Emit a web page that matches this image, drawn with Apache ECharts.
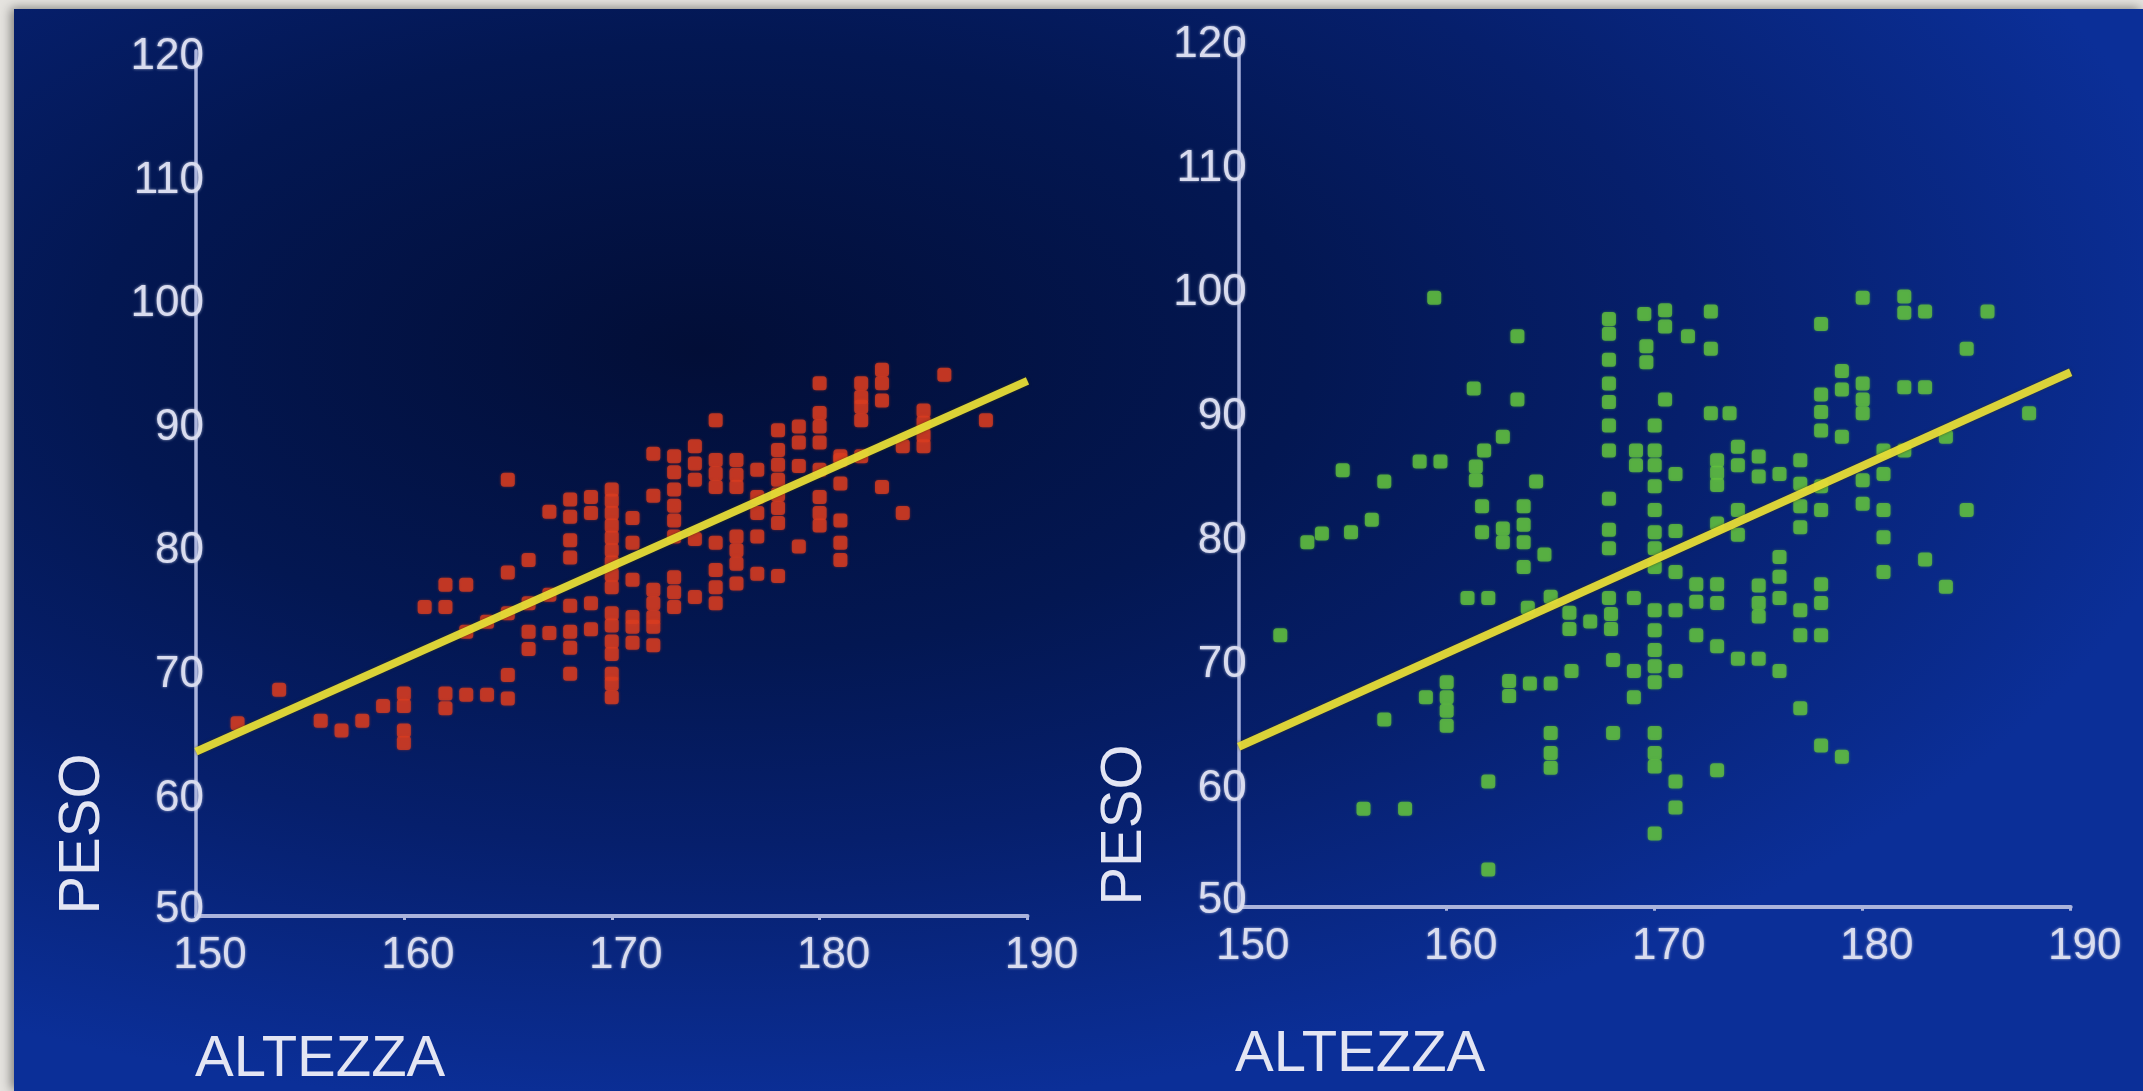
<!DOCTYPE html>
<html>
<head>
<meta charset="utf-8">
<title>PESO / ALTEZZA</title>
<script src="https://cdn.jsdelivr.net/npm/echarts@6/dist/echarts.min.js"></script>
<style>
  html, body { margin: 0; padding: 0; width: 2143px; height: 1091px; overflow: hidden; background: #e5e3df; }
  #slide {
    position: absolute; left: 14px; top: 9px; width: 2129px; height: 1082px;
    background: radial-gradient(1523px 762px at 686px 341px, #020e37 0%, #031752 40%, #061f6c 65%, #0b2f98 100%);
    box-shadow: -3px -1px 10px rgba(0, 0, 0, 0.45);
  }
  #chart { position: absolute; left: 0; top: 0; width: 2143px; height: 1091px; }
</style>
</head>
<body>
<div id="slide"></div>
<div id="chart"></div>
<script>
// Axis ticks (altezza in cm, peso in kg)
const xTicks = [150, 160, 170, 180, 190];
const yTicks = [50, 60, 70, 80, 90, 100, 110, 120];

// Left panel: [altezza, peso] — strong correlation
const rossi = [
  [152,65.6],[154,68.3],[156,65.8],[157,65.0],[158,65.8],[159,67.0],
  [160,68.0],[160,67.0],[160,65.0],[160,64.0],
  [161,75.0],[162,76.8],[162,75.0],[162,68.0],[162,66.8],
  [163,76.8],[163,73.0],[163,67.9],
  [164,73.8],[164,67.9],
  [165,85.3],[165,77.8],[165,74.5],[165,69.5],[165,67.6],
  [166,78.8],[166,75.3],[166,73.0],[166,71.6],
  [167,82.7],[167,76.0],[167,72.9],
  [168,83.7],[168,82.3],[168,80.4],[168,79.0],[168,75.1],[168,73.0],[168,71.7],[168,69.6],
  [169,83.9],[169,82.6],[169,75.3],[169,73.2],
  [170,84.5],[170,83.6],[170,82.6],[170,81.6],[170,80.6],[170,79.6],[170,78.6],[170,77.6],
  [170,76.6],[170,74.5],[170,73.5],[170,72.2],[170,71.2],[170,69.6],[170,68.8],[170,67.7],
  [171,82.2],[171,80.2],[171,77.2],[171,74.2],[171,73.4],[171,72.1],
  [172,87.4],[172,84.0],[172,76.4],[172,75.3],[172,74.2],[172,73.4],[172,71.9],
  [173,87.2],[173,85.9],[173,84.5],[173,83.2],[173,82.0],[173,80.7],[173,77.4],[173,76.2],[173,75.0],
  [174,88.0],[174,86.6],[174,85.3],[174,80.5],[174,75.8],
  [175,90.1],[175,86.9],[175,85.8],[175,84.7],[175,80.2],[175,78.0],[175,76.6],[175,75.3],
  [176,86.9],[176,85.7],[176,84.7],[176,80.7],[176,79.6],[176,78.5],[176,76.9],
  [177,86.1],[177,83.9],[177,82.6],[177,80.7],[177,77.7],
  [178,89.3],[178,87.7],[178,86.5],[178,85.3],[178,84.1],[178,83.0],[178,81.8],[178,77.5],
  [179,89.6],[179,88.3],[179,86.4],[179,79.9],
  [180,93.1],[180,90.7],[180,89.6],[180,88.3],[180,86.1],[180,83.9],[180,82.6],[180,81.6],
  [181,87.2],[181,86.9],[181,85.0],[181,82.0],[181,80.2],[181,78.8],
  [182,93.1],[182,92.0],[182,91.2],[182,90.1],[182,87.2],
  [183,94.2],[183,93.1],[183,91.7],[183,84.7],
  [184,88.0],[184,82.6],
  [185,90.9],[185,89.9],[185,88.9],[185,88.0],
  [186,93.8],
  [188,90.1]
];

// Right panel: [altezza, peso] — weak correlation
const verdi = [
  [152,71.9],
  [153.3,79.4],[154,80.1],
  [155,85.2],[155.4,80.2],
  [156.4,81.2],[156,57.9],
  [157,84.3],[157,65.1],
  [158,57.9],
  [158.7,85.9],[159.7,85.9],
  [159.4,99.1],
  [159,66.9],
  [160,68.1],[160,66.9],[160,65.8],[160,64.6],
  [161,74.9],[161.3,91.8],[161.4,85.5],[161.4,84.4],[161.7,82.3],[161.7,80.2],[161.8,86.8],
  [162,74.9],[162,60.1],[162,53.0],
  [162.7,87.9],[162.7,80.5],[162.7,79.4],
  [163,68.2],[163,67.0],
  [163.4,96.0],[163.4,90.9],
  [163.7,82.3],[163.7,80.8],[163.7,79.4],[163.7,77.4],
  [163.9,74.1],
  [164,68.0],
  [164.3,84.3],[164.7,78.4],
  [165,75.0],[165,68.0],[165,64.0],[165,62.4],[165,61.2],
  [165.9,73.7],[165.9,72.4],
  [166,69.0],
  [166.9,73.0],
  [167.8,97.4],[167.8,96.2],[167.8,94.1],[167.8,92.2],[167.8,90.7],[167.8,88.8],[167.8,86.8],
  [167.8,82.9],[167.8,80.4],[167.8,78.9],[167.8,74.9],[167.9,73.6],[167.9,72.4],
  [168,69.9],[168,64.0],
  [169,74.9],[169,69.0],[169,66.9],
  [169.1,86.8],[169.1,85.6],
  [169.5,97.8],[169.6,95.2],[169.6,93.9],
  [170,88.8],[170,86.8],[170,85.6],[170,83.9],[170,82.0],[170,80.2],[170,78.9],[170,77.4],
  [170,73.9],[170,72.3],[170,70.7],[170,69.4],[170,68.1],[170,64.0],[170,62.4],[170,61.3],[170,55.9],
  [170.5,98.1],[170.5,96.8],[170.5,90.9],
  [171,84.9],[171,80.3],[171,77.0],[171,73.9],[171,69.0],[171,60.1],[171,58.0],
  [171.6,96.0],
  [172,76.0],[172,74.6],[172,71.9],
  [172.7,98.0],[172.7,95.0],[172.7,89.8],
  [173,86.0],[173,85.0],[173,84.0],[173,80.9],[173,76.0],[173,74.5],[173,71.0],[173,61.0],
  [173.6,89.8],
  [174,87.1],[174,85.6],[174,82.0],[174,80.0],[174,70.0],
  [175,86.3],[175,84.7],[175,75.9],[175,74.5],[175,73.4],[175,70.0],
  [176,84.9],[176,78.2],[176,76.6],[176,74.9],[176,69.0],
  [177,86.0],[177,84.1],[177,82.3],[177,80.6],[177,73.9],[177,71.9],[177,66.0],
  [178,97.0],[178,91.3],[178,89.9],[178,88.4],[178,83.9],[178,82.0],[178,76.0],[178,74.5],[178,71.9],[178,63.0],
  [179,93.2],[179,91.7],[179,87.9],[179,62.1],
  [180,99.1],[180,92.2],[180,90.9],[180,89.8],[180,84.4],[180,82.5],
  [181,86.8],[181,84.9],[181,82.0],[181,79.8],[181,77.0],
  [182,99.2],[182,97.9],[182,91.9],[182,86.8],
  [183,98.0],[183,91.9],[183,78.0],
  [184,87.9],[184,75.8],
  [185,95.0],[185,82.0],
  [186,98.0],
  [188,89.8]
];

// Regression lines (end points at the axis limits)
const rettaRossi = [[150, 63.3], [190, 93.3]];
const rettaVerdi = [[150, 62.9], [190, 93.1]];

const FONT = "'Liberation Sans', Arial, sans-serif";
const AXIS_COLOR = '#aab3dc';
const LABEL_COLOR = '#d9dcef';
const TITLE_COLOR = '#e3e5f3';
const GLOW = 'rgba(215,220,240,0.75)';

function xAxisFor(gridIndex) {
  return {
    type: 'value', gridIndex,
    min: xTicks[0], max: xTicks[xTicks.length - 1], interval: xTicks[1] - xTicks[0],
    splitLine: { show: false },
    axisLine: { show: true, onZero: false, lineStyle: { color: AXIS_COLOR, width: 4 } },
    axisTick: { show: true, length: 4, lineStyle: { color: AXIS_COLOR, width: 3 } },
    axisLabel: {
      color: LABEL_COLOR, fontFamily: FONT, fontSize: 44,
      textShadowColor: GLOW, textShadowBlur: 3,
      margin: 18, padding: [0, 0, 0, 28]
    }
  };
}

function yAxisFor(gridIndex) {
  const base = { color: LABEL_COLOR, fontFamily: FONT, fontSize: 44, textShadowColor: GLOW, textShadowBlur: 3 };
  return {
    type: 'value', gridIndex,
    min: yTicks[0], max: yTicks[yTicks.length - 1], interval: yTicks[1] - yTicks[0],
    splitLine: { show: false },
    axisLine: { show: true, onZero: false, lineStyle: { color: AXIS_COLOR, width: 3.5 } },
    axisTick: { show: false },
    axisLabel: {
      margin: -8,
      formatter: v => (v === yTicks[0] ? '{b|' + v + '}' : '{a|' + v + '}'),
      rich: {
        a: Object.assign({ padding: [12, 0, 0, 0] }, base),
        b: Object.assign({ padding: [0, 0, 12, 0] }, base)
      }
    }
  };
}

function title(text, x, y, rotated) {
  return {
    type: 'text', x, y, rotation: rotated ? Math.PI / 2 : 0, z: 10,
    style: {
      text, fill: TITLE_COLOR, font: '58px ' + FONT,
      align: rotated ? 'center' : 'left', verticalAlign: 'middle',
      shadowColor: GLOW, shadowBlur: 3
    }
  };
}

const chart = echarts.init(document.getElementById('chart'), null, { renderer: 'canvas' });

chart.setOption({
  backgroundColor: 'transparent',
  animation: false,
  grid: [
    { left: 196, top: 50.8, width: 831.5, height: 865.2, outerBoundsMode: 'none' },
    { left: 1238.7, top: 38.7, width: 832, height: 868, outerBoundsMode: 'none' }
  ],
  xAxis: [xAxisFor(0), xAxisFor(1)],
  yAxis: [yAxisFor(0), yAxisFor(1)],
  graphic: [
    title('PESO', 83, 834, true),
    title('ALTEZZA', 195, 1060, false),
    title('PESO', 1125, 825, true),
    title('ALTEZZA', 1235, 1055, false)
  ],
  series: [
    {
      type: 'scatter', xAxisIndex: 0, yAxisIndex: 0, data: rossi,
      symbol: 'roundRect', symbolSize: 14, z: 2,
      itemStyle: { color: '#d83c20', shadowBlur: 3, shadowColor: 'rgba(215,60,30,0.6)' }
    },
    {
      type: 'line', xAxisIndex: 0, yAxisIndex: 0, data: rettaRossi,
      symbol: 'none', z: 3,
      lineStyle: { color: '#eee63a', width: 8, opacity: 0.9, shadowBlur: 3, shadowColor: 'rgba(70,60,0,0.7)' }
    },
    {
      type: 'scatter', xAxisIndex: 1, yAxisIndex: 1, data: verdi,
      symbol: 'roundRect', symbolSize: 14, z: 2,
      itemStyle: { color: '#63c13e', shadowBlur: 3, shadowColor: 'rgba(90,190,60,0.6)' }
    },
    {
      type: 'line', xAxisIndex: 1, yAxisIndex: 1, data: rettaVerdi,
      symbol: 'none', z: 3,
      lineStyle: { color: '#eee63a', width: 8, opacity: 0.9, shadowBlur: 3, shadowColor: 'rgba(70,60,0,0.7)' }
    }
  ]
});
</script>
</body>
</html>
